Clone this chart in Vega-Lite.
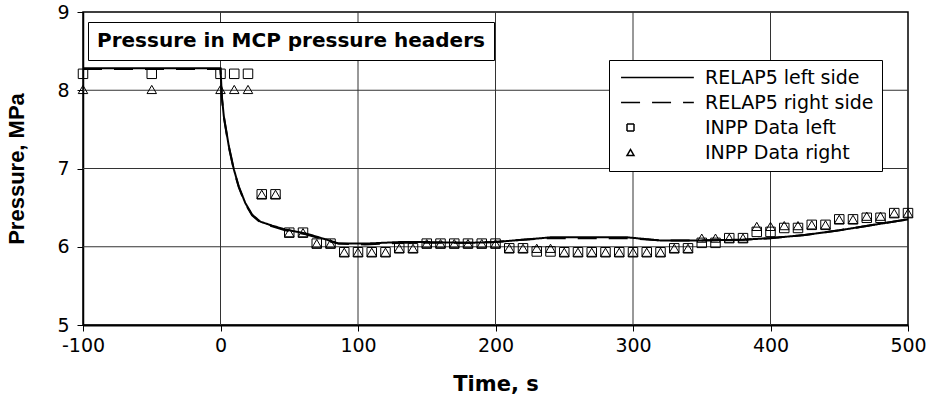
{
  "$schema": "https://vega.github.io/schema/vega-lite/v6.json",
  "autosize": {"type": "none"},
  "padding": {"left": 83, "top": 12, "right": 25, "bottom": 80},
  "width": 825,
  "height": 313,
  "background": "white",
  "config": {
    "font": "DejaVu Sans",
    "view": {"stroke": "black", "strokeWidth": 1.5},
    "axis": {
      "labelColor": "black", "titleColor": "black", "labelFontSize": 19, "labelFont": "DejaVu Sans",
      "titleFontSize": 21, "titleFontWeight": "bold",
      "domainColor": "black", "domainWidth": 2, "labelFlush": false, "grid": false,
      "tickColor": "black", "tickWidth": 1, "tickSize": 6
    }
  },
  "datasets": {
    "gridx": [{"time": 0}, {"time": 100}, {"time": 200}, {"time": 300}, {"time": 400}],
    "gridy": [{"pressure": 6}, {"pressure": 7}, {"pressure": 8}],
    "relap": [
      {"series": "RELAP5 left side", "time": -100, "pressure": 8.28},
      {"series": "RELAP5 left side", "time": 0, "pressure": 8.28},
      {"series": "RELAP5 left side", "time": 1, "pressure": 7.92},
      {"series": "RELAP5 left side", "time": 2.4, "pressure": 7.67},
      {"series": "RELAP5 left side", "time": 6, "pressure": 7.29},
      {"series": "RELAP5 left side", "time": 9.7, "pressure": 6.99},
      {"series": "RELAP5 left side", "time": 13.3, "pressure": 6.77},
      {"series": "RELAP5 left side", "time": 18, "pressure": 6.56},
      {"series": "RELAP5 left side", "time": 23, "pressure": 6.41},
      {"series": "RELAP5 left side", "time": 29, "pressure": 6.32},
      {"series": "RELAP5 left side", "time": 37.6, "pressure": 6.27},
      {"series": "RELAP5 left side", "time": 47, "pressure": 6.22},
      {"series": "RELAP5 left side", "time": 62, "pressure": 6.17},
      {"series": "RELAP5 left side", "time": 71.6, "pressure": 6.12},
      {"series": "RELAP5 left side", "time": 81, "pressure": 6.07},
      {"series": "RELAP5 left side", "time": 86, "pressure": 6.04},
      {"series": "RELAP5 left side", "time": 105, "pressure": 6.04},
      {"series": "RELAP5 left side", "time": 130, "pressure": 6.06},
      {"series": "RELAP5 left side", "time": 150, "pressure": 6.06},
      {"series": "RELAP5 left side", "time": 180, "pressure": 6.05},
      {"series": "RELAP5 left side", "time": 200, "pressure": 6.06},
      {"series": "RELAP5 left side", "time": 220, "pressure": 6.09},
      {"series": "RELAP5 left side", "time": 240, "pressure": 6.12},
      {"series": "RELAP5 left side", "time": 296, "pressure": 6.12},
      {"series": "RELAP5 left side", "time": 320, "pressure": 6.08},
      {"series": "RELAP5 left side", "time": 346, "pressure": 6.08},
      {"series": "RELAP5 left side", "time": 380, "pressure": 6.09},
      {"series": "RELAP5 left side", "time": 400, "pressure": 6.11},
      {"series": "RELAP5 left side", "time": 425, "pressure": 6.15},
      {"series": "RELAP5 left side", "time": 450, "pressure": 6.21},
      {"series": "RELAP5 left side", "time": 475, "pressure": 6.28},
      {"series": "RELAP5 left side", "time": 500, "pressure": 6.35},
      {"series": "RELAP5 right side", "time": -100, "pressure": 8.27},
      {"series": "RELAP5 right side", "time": 0, "pressure": 8.27},
      {"series": "RELAP5 right side", "time": 1, "pressure": 7.9},
      {"series": "RELAP5 right side", "time": 2.4, "pressure": 7.66},
      {"series": "RELAP5 right side", "time": 6, "pressure": 7.28},
      {"series": "RELAP5 right side", "time": 9.7, "pressure": 6.98},
      {"series": "RELAP5 right side", "time": 13.3, "pressure": 6.76},
      {"series": "RELAP5 right side", "time": 18, "pressure": 6.55},
      {"series": "RELAP5 right side", "time": 23, "pressure": 6.4},
      {"series": "RELAP5 right side", "time": 29, "pressure": 6.31},
      {"series": "RELAP5 right side", "time": 37.6, "pressure": 6.26},
      {"series": "RELAP5 right side", "time": 47, "pressure": 6.21},
      {"series": "RELAP5 right side", "time": 62, "pressure": 6.16},
      {"series": "RELAP5 right side", "time": 71.6, "pressure": 6.11},
      {"series": "RELAP5 right side", "time": 81, "pressure": 6.06},
      {"series": "RELAP5 right side", "time": 86, "pressure": 6.04},
      {"series": "RELAP5 right side", "time": 105, "pressure": 6.03},
      {"series": "RELAP5 right side", "time": 130, "pressure": 6.05},
      {"series": "RELAP5 right side", "time": 150, "pressure": 6.05},
      {"series": "RELAP5 right side", "time": 180, "pressure": 6.05},
      {"series": "RELAP5 right side", "time": 200, "pressure": 6.06},
      {"series": "RELAP5 right side", "time": 220, "pressure": 6.09},
      {"series": "RELAP5 right side", "time": 240, "pressure": 6.11},
      {"series": "RELAP5 right side", "time": 296, "pressure": 6.11},
      {"series": "RELAP5 right side", "time": 320, "pressure": 6.08},
      {"series": "RELAP5 right side", "time": 346, "pressure": 6.08},
      {"series": "RELAP5 right side", "time": 380, "pressure": 6.09},
      {"series": "RELAP5 right side", "time": 400, "pressure": 6.11},
      {"series": "RELAP5 right side", "time": 425, "pressure": 6.15},
      {"series": "RELAP5 right side", "time": 450, "pressure": 6.21},
      {"series": "RELAP5 right side", "time": 475, "pressure": 6.28},
      {"series": "RELAP5 right side", "time": 500, "pressure": 6.35}
    ],
    "inpp": [
      {"series": "INPP Data left", "time": -100, "pressure": 8.21},
      {"series": "INPP Data left", "time": -50, "pressure": 8.21},
      {"series": "INPP Data left", "time": 0, "pressure": 8.21},
      {"series": "INPP Data left", "time": 10, "pressure": 8.21},
      {"series": "INPP Data left", "time": 20, "pressure": 8.21},
      {"series": "INPP Data left", "time": 30, "pressure": 6.67},
      {"series": "INPP Data left", "time": 40, "pressure": 6.67},
      {"series": "INPP Data left", "time": 50, "pressure": 6.18},
      {"series": "INPP Data left", "time": 60, "pressure": 6.18},
      {"series": "INPP Data left", "time": 70, "pressure": 6.04},
      {"series": "INPP Data left", "time": 80, "pressure": 6.04},
      {"series": "INPP Data left", "time": 90, "pressure": 5.93},
      {"series": "INPP Data left", "time": 100, "pressure": 5.93},
      {"series": "INPP Data left", "time": 110, "pressure": 5.93},
      {"series": "INPP Data left", "time": 120, "pressure": 5.93},
      {"series": "INPP Data left", "time": 130, "pressure": 5.98},
      {"series": "INPP Data left", "time": 140, "pressure": 5.98},
      {"series": "INPP Data left", "time": 150, "pressure": 6.04},
      {"series": "INPP Data left", "time": 160, "pressure": 6.04},
      {"series": "INPP Data left", "time": 170, "pressure": 6.04},
      {"series": "INPP Data left", "time": 180, "pressure": 6.04},
      {"series": "INPP Data left", "time": 190, "pressure": 6.04},
      {"series": "INPP Data left", "time": 200, "pressure": 6.04},
      {"series": "INPP Data left", "time": 210, "pressure": 5.98},
      {"series": "INPP Data left", "time": 220, "pressure": 5.98},
      {"series": "INPP Data left", "time": 230, "pressure": 5.94},
      {"series": "INPP Data left", "time": 240, "pressure": 5.94},
      {"series": "INPP Data left", "time": 250, "pressure": 5.93},
      {"series": "INPP Data left", "time": 260, "pressure": 5.93},
      {"series": "INPP Data left", "time": 270, "pressure": 5.93},
      {"series": "INPP Data left", "time": 280, "pressure": 5.93},
      {"series": "INPP Data left", "time": 290, "pressure": 5.93},
      {"series": "INPP Data left", "time": 300, "pressure": 5.93},
      {"series": "INPP Data left", "time": 310, "pressure": 5.93},
      {"series": "INPP Data left", "time": 320, "pressure": 5.93},
      {"series": "INPP Data left", "time": 330, "pressure": 5.98},
      {"series": "INPP Data left", "time": 340, "pressure": 5.98},
      {"series": "INPP Data left", "time": 350, "pressure": 6.05},
      {"series": "INPP Data left", "time": 360, "pressure": 6.05},
      {"series": "INPP Data left", "time": 370, "pressure": 6.11},
      {"series": "INPP Data left", "time": 380, "pressure": 6.11},
      {"series": "INPP Data left", "time": 390, "pressure": 6.19},
      {"series": "INPP Data left", "time": 400, "pressure": 6.19},
      {"series": "INPP Data left", "time": 410, "pressure": 6.24},
      {"series": "INPP Data left", "time": 420, "pressure": 6.24},
      {"series": "INPP Data left", "time": 430, "pressure": 6.28},
      {"series": "INPP Data left", "time": 440, "pressure": 6.28},
      {"series": "INPP Data left", "time": 450, "pressure": 6.35},
      {"series": "INPP Data left", "time": 460, "pressure": 6.35},
      {"series": "INPP Data left", "time": 470, "pressure": 6.37},
      {"series": "INPP Data left", "time": 480, "pressure": 6.37},
      {"series": "INPP Data left", "time": 490, "pressure": 6.43},
      {"series": "INPP Data left", "time": 500, "pressure": 6.43},
      {"series": "INPP Data right", "time": -100, "pressure": 8.01},
      {"series": "INPP Data right", "time": -50, "pressure": 8.01},
      {"series": "INPP Data right", "time": 0, "pressure": 8.01},
      {"series": "INPP Data right", "time": 10, "pressure": 8.01},
      {"series": "INPP Data right", "time": 20, "pressure": 8.01},
      {"series": "INPP Data right", "time": 30, "pressure": 6.67},
      {"series": "INPP Data right", "time": 40, "pressure": 6.67},
      {"series": "INPP Data right", "time": 50, "pressure": 6.18},
      {"series": "INPP Data right", "time": 60, "pressure": 6.18},
      {"series": "INPP Data right", "time": 70, "pressure": 6.04},
      {"series": "INPP Data right", "time": 80, "pressure": 6.04},
      {"series": "INPP Data right", "time": 90, "pressure": 5.93},
      {"series": "INPP Data right", "time": 100, "pressure": 5.93},
      {"series": "INPP Data right", "time": 110, "pressure": 5.93},
      {"series": "INPP Data right", "time": 120, "pressure": 5.93},
      {"series": "INPP Data right", "time": 130, "pressure": 5.98},
      {"series": "INPP Data right", "time": 140, "pressure": 5.98},
      {"series": "INPP Data right", "time": 150, "pressure": 6.04},
      {"series": "INPP Data right", "time": 160, "pressure": 6.04},
      {"series": "INPP Data right", "time": 170, "pressure": 6.04},
      {"series": "INPP Data right", "time": 180, "pressure": 6.04},
      {"series": "INPP Data right", "time": 190, "pressure": 6.04},
      {"series": "INPP Data right", "time": 200, "pressure": 6.04},
      {"series": "INPP Data right", "time": 210, "pressure": 5.98},
      {"series": "INPP Data right", "time": 220, "pressure": 5.98},
      {"series": "INPP Data right", "time": 230, "pressure": 5.98},
      {"series": "INPP Data right", "time": 240, "pressure": 5.98},
      {"series": "INPP Data right", "time": 250, "pressure": 5.93},
      {"series": "INPP Data right", "time": 260, "pressure": 5.93},
      {"series": "INPP Data right", "time": 270, "pressure": 5.93},
      {"series": "INPP Data right", "time": 280, "pressure": 5.93},
      {"series": "INPP Data right", "time": 290, "pressure": 5.93},
      {"series": "INPP Data right", "time": 300, "pressure": 5.93},
      {"series": "INPP Data right", "time": 310, "pressure": 5.93},
      {"series": "INPP Data right", "time": 320, "pressure": 5.93},
      {"series": "INPP Data right", "time": 330, "pressure": 5.98},
      {"series": "INPP Data right", "time": 340, "pressure": 5.98},
      {"series": "INPP Data right", "time": 350, "pressure": 6.11},
      {"series": "INPP Data right", "time": 360, "pressure": 6.11},
      {"series": "INPP Data right", "time": 370, "pressure": 6.11},
      {"series": "INPP Data right", "time": 380, "pressure": 6.11},
      {"series": "INPP Data right", "time": 390, "pressure": 6.26},
      {"series": "INPP Data right", "time": 400, "pressure": 6.26},
      {"series": "INPP Data right", "time": 410, "pressure": 6.27},
      {"series": "INPP Data right", "time": 420, "pressure": 6.27},
      {"series": "INPP Data right", "time": 430, "pressure": 6.28},
      {"series": "INPP Data right", "time": 440, "pressure": 6.28},
      {"series": "INPP Data right", "time": 450, "pressure": 6.35},
      {"series": "INPP Data right", "time": 460, "pressure": 6.35},
      {"series": "INPP Data right", "time": 470, "pressure": 6.39},
      {"series": "INPP Data right", "time": 480, "pressure": 6.39},
      {"series": "INPP Data right", "time": 490, "pressure": 6.43},
      {"series": "INPP Data right", "time": 500, "pressure": 6.43}
    ]
  },
  "layer": [
    {
      "data": {"name": "gridx"},
      "mark": {"type": "rule", "color": "#333", "strokeWidth": 1},
      "encoding": {
        "x": {
          "field": "time", "type": "quantitative",
          "scale": {"domain": [-100, 500], "nice": false, "zero": false},
          "axis": {
            "values": [-100, 0, 100, 200, 300, 400, 500], "title": "Time, s",
            "labelPadding": 5, "titlePadding": 18, "labelExpr": "'' + datum.value"
          }
        }
      }
    },
    {
      "data": {"name": "gridy"},
      "mark": {"type": "rule", "color": "#333", "strokeWidth": 1},
      "encoding": {
        "y": {
          "field": "pressure", "type": "quantitative",
          "scale": {"domain": [5, 9], "nice": false, "zero": false},
          "axis": {
            "values": [5, 6, 7, 8, 9], "title": "Pressure, MPa", "labelPadding": 8,
            "titlePadding": 28, "domainWidth": 1.5, "titleFont": "Liberation Sans", "titleFontSize": 22
          }
        }
      }
    },
    {
      "data": {"name": "relap"},
      "mark": {"type": "line", "color": "black", "strokeWidth": 2, "clip": true},
      "encoding": {
        "x": {
          "field": "time", "type": "quantitative",
          "scale": {"domain": [-100, 500], "nice": false, "zero": false},
          "axis": {
            "values": [-100, 0, 100, 200, 300, 400, 500], "title": "Time, s",
            "labelPadding": 5, "titlePadding": 18, "labelExpr": "'' + datum.value"
          }
        },
        "y": {
          "field": "pressure", "type": "quantitative",
          "scale": {"domain": [5, 9], "nice": false, "zero": false},
          "axis": {
            "values": [5, 6, 7, 8, 9], "title": "Pressure, MPa", "labelPadding": 8,
            "titlePadding": 28, "domainWidth": 1.5, "titleFont": "Liberation Sans", "titleFontSize": 22
          }
        },
        "detail": {"field": "series", "type": "nominal"},
        "strokeDash": {
          "field": "series", "type": "nominal",
          "scale": {
            "domain": ["RELAP5 left side", "RELAP5 right side", "INPP Data left", "INPP Data right"],
            "range": [[1, 0], [19, 12], [1, 0], [1, 0]]
          },
          "legend": {
            "title": null, "orient": "none", "legendX": 526, "legendY": 48,
            "strokeColor": "black", "fillColor": "white", "padding": 8,
            "labelFontSize": 19, "labelFont": "DejaVu Sans", "labelColor": "black", "labelOffset": 65,
            "labelExpr": "datum.label + '\u00a0\u00a0\u00a0\u00a0\u00a0'", "labelLimit": 400,
            "symbolSize": 49, "symbolOffset": 4, "symbolStrokeColor": "black", "symbolStrokeWidth": 1.5,
            "rowPadding": 5, "symbolFillColor": "transparent", "zindex": 2
          }
        },
        "opacity": {
          "field": "series", "type": "ordinal",
          "scale": {"domain": ["RELAP5 left side", "RELAP5 right side"], "range": [1, 1]},
          "legend": {
            "values": [], "title": "Pressure in MCP pressure headers",
            "orient": "none", "legendX": 5, "legendY": 10,
            "strokeColor": "black", "fillColor": "white", "padding": 9,
            "titleFontSize": 20, "titleFont": "DejaVu Sans", "titleFontWeight": "bold", "titleColor": "black",
            "titlePadding": 0, "titleLimit": 600, "zindex": 2
          }
        }
      }
    },
    {
      "data": {"name": "inpp"},
      "mark": {"type": "point", "filled": false, "color": "black", "strokeWidth": 1, "size": 90, "opacity": 1},
      "encoding": {
        "x": {
          "field": "time", "type": "quantitative",
          "scale": {"domain": [-100, 500], "nice": false, "zero": false},
          "axis": {
            "values": [-100, 0, 100, 200, 300, 400, 500], "title": "Time, s",
            "labelPadding": 5, "titlePadding": 18, "labelExpr": "'' + datum.value"
          }
        },
        "y": {
          "field": "pressure", "type": "quantitative",
          "scale": {"domain": [5, 9], "nice": false, "zero": false},
          "axis": {
            "values": [5, 6, 7, 8, 9], "title": "Pressure, MPa", "labelPadding": 8,
            "titlePadding": 28, "domainWidth": 1.5, "titleFont": "Liberation Sans", "titleFontSize": 22
          }
        },
        "shape": {
          "field": "series", "type": "nominal",
          "scale": {
            "domain": ["RELAP5 left side", "RELAP5 right side", "INPP Data left", "INPP Data right"],
            "range": ["M-2.7,0H18.1", "M-2.7,0H18.1", "square", "triangle-up"]
          },
          "legend": {
            "title": null, "orient": "none", "legendX": 526, "legendY": 48,
            "strokeColor": "black", "fillColor": "white", "padding": 8,
            "labelFontSize": 19, "labelFont": "DejaVu Sans", "labelColor": "black", "labelOffset": 65,
            "labelExpr": "datum.label + '\u00a0\u00a0\u00a0\u00a0\u00a0'", "labelLimit": 400,
            "symbolSize": 49, "symbolOffset": 4, "symbolStrokeColor": "black", "symbolStrokeWidth": 1.5,
            "rowPadding": 5, "symbolFillColor": "transparent", "zindex": 2
          }
        }
      }
    }
  ]
}
